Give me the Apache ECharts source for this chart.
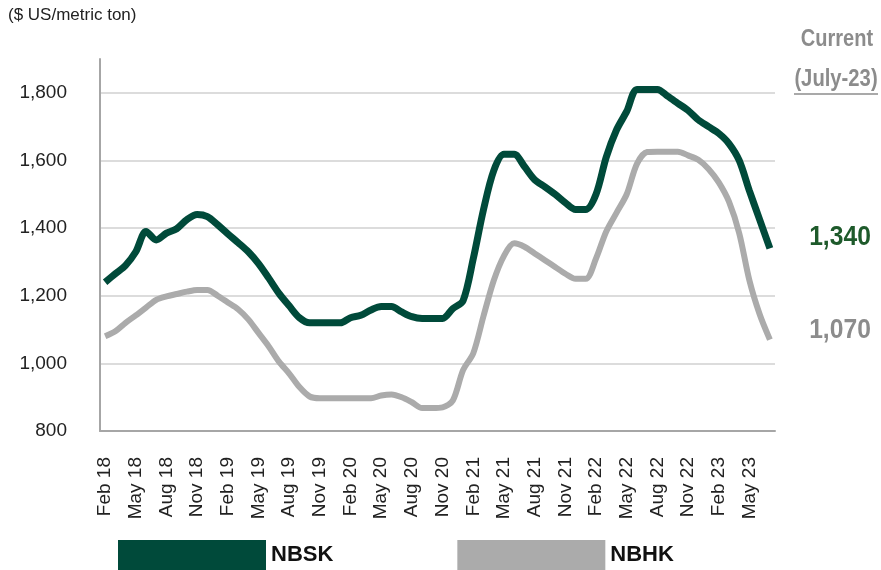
<!DOCTYPE html>
<html>
  <head>
    <meta charset="utf-8" />
    <title>NBSK / NBHK</title>
    <script src="https://cdn.jsdelivr.net/npm/echarts@6/dist/echarts.min.js"></script>
  </head>
  <body style="margin:0;background:#fff;">
    <div id="main" style="width: 881px;height:570px;"></div>
    <script type="text/javascript">
      // monthly, Feb 18 -> Jul 23
      var monthNames = ["Jan", "Feb", "Mar", "Apr", "May", "Jun", "Jul", "Aug", "Sep", "Oct", "Nov", "Dec"];
      var months = [];
      for (var y = 18; y <= 23; y++) {
        for (var m = 0; m < 12; m++) {
          if (y === 18 && m < 1) continue;
          if (y === 23 && m > 6) break;
          months.push(monthNames[m] + " " + y);
        }
      }

      var nbsk = [
        1240, 1265, 1290, 1330, 1390, 1365, 1385, 1398, 1425, 1440, 1434,
        1410, 1383, 1357, 1330, 1295, 1252, 1207, 1170, 1135, 1120, 1120, 1120, 1120,
        1135, 1142, 1158, 1168, 1168, 1152, 1138, 1133, 1133, 1133, 1162, 1185,
        1310, 1455, 1570, 1618, 1618, 1582, 1543, 1522, 1500, 1475, 1455, 1455,
        1500, 1610, 1690, 1745, 1810, 1810, 1810, 1790, 1769, 1748, 1720, 1700,
        1680, 1650, 1600, 1510, 1425, 1340
      ];
      var nbhk = [
        1080, 1095, 1120, 1142, 1165, 1188, 1198, 1205, 1212, 1217, 1217,
        1200, 1180, 1160, 1130, 1090, 1050, 1005, 970, 930, 902, 897, 897, 897,
        897, 897, 897, 905, 908, 900, 885, 868, 868, 870, 890, 980,
        1030, 1140, 1245, 1318, 1355, 1345, 1325, 1305, 1285, 1265, 1250, 1250,
        1310, 1390, 1445, 1500, 1590, 1625, 1626, 1626, 1626, 1615, 1602, 1575,
        1535, 1478, 1385, 1245, 1145, 1070
      ];
      var current = { nbsk: "1,340", nbhk: "1,070" };

      var font = '"Liberation Sans", Arial, sans-serif';
      var green = "#004a3a";
      var grey = "#ababab";

      var myChart = echarts.init(document.getElementById("main"));

      var option = {
        backgroundColor: "#fff",
        animation: false,
        grid: { left: 100, right: 106, top: 59, bottom: 139 },
        legend: {
          left: 113,
          top: 535,
          itemWidth: 148,
          itemHeight: 30,
          itemGap: 124,
          icon: "rect",
          textStyle: {
            fontFamily: font,
            fontSize: 22,
            fontWeight: "bold",
            color: "#111"
          },
          data: ["NBSK", "NBHK"]
        },
        xAxis: {
          type: "category",
          data: months,
          boundaryGap: true,
          axisLine: { lineStyle: { color: "#a6a6a6", width: 2 } },
          axisTick: { show: false },
          axisLabel: {
            interval: 2,
            rotate: 90,
            margin: 26,
            fontFamily: font,
            fontSize: 19,
            color: "#222"
          }
        },
        yAxis: {
          type: "value",
          min: 800,
          max: 1900,
          interval: 200,
          axisLine: { show: true, lineStyle: { color: "#a6a6a6", width: 2 } },
          axisTick: { show: false },
          splitLine: {
            lineStyle: {
              // last split line (1900) stays hidden
              color: ["#dcdcdc", "#dcdcdc", "#dcdcdc", "#dcdcdc", "#dcdcdc", "#dcdcdc", "rgba(0,0,0,0)"],
              width: 2
            }
          },
          axisLabel: {
            showMaxLabel: false,
            margin: 33,
            fontFamily: font,
            fontSize: 19,
            color: "#222",
            formatter: function (v) {
              return v.toLocaleString("en-US");
            }
          }
        },
        series: [
          {
            name: "NBSK",
            type: "line",
            data: nbsk,
            smooth: 0.3,
            symbol: "none",
            color: green,
            lineStyle: { width: 7, color: green }
          },
          {
            name: "NBHK",
            type: "line",
            data: nbhk,
            smooth: 0.3,
            symbol: "none",
            color: grey,
            lineStyle: { width: 6, color: grey }
          }
        ],
        graphic: [
          {
            type: "text",
            left: 8,
            top: 7,
            style: {
              text: "($ US/metric ton)",
              fontFamily: font,
              fontSize: 17,
              fill: "#222"
            }
          },
          {
            type: "text",
            x: 837,
            y: 40,
            scaleX: 0.87,
            style: {
              text: "Current",
              align: "center",
              verticalAlign: "middle",
              fontFamily: font,
              fontSize: 23,
              fontWeight: "bold",
              fill: "#8c8c8c"
            }
          },
          {
            type: "text",
            x: 836,
            y: 80,
            scaleX: 0.88,
            style: {
              text: "(July-23)",
              align: "center",
              verticalAlign: "middle",
              fontFamily: font,
              fontSize: 23,
              fontWeight: "bold",
              fill: "#8c8c8c"
            }
          },
          {
            type: "line",
            shape: { x1: 794, y1: 94, x2: 878, y2: 94 },
            style: { stroke: "#8c8c8c", lineWidth: 1.5 }
          },
          {
            type: "text",
            x: 840,
            y: 237,
            scaleX: 0.88,
            style: {
              text: current.nbsk,
              align: "center",
              verticalAlign: "middle",
              fontFamily: font,
              fontSize: 28,
              fontWeight: "bold",
              fill: "#1e5a2b"
            }
          },
          {
            type: "text",
            x: 840,
            y: 330,
            scaleX: 0.88,
            style: {
              text: current.nbhk,
              align: "center",
              verticalAlign: "middle",
              fontFamily: font,
              fontSize: 28,
              fontWeight: "bold",
              fill: "#8c8c8c"
            }
          }
        ]
      };

      myChart.setOption(option);
    </script>
  </body>
</html>
